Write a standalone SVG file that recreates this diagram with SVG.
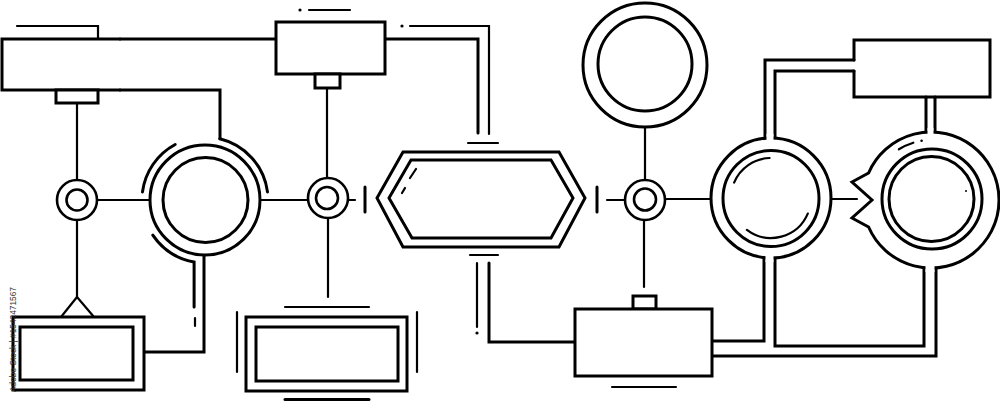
<svg xmlns="http://www.w3.org/2000/svg" width="1000" height="401" viewBox="0 0 1000 401">
<style>
.s{fill:none;stroke:#000;stroke-width:3;stroke-linecap:round;stroke-linejoin:miter}
.t{fill:none;stroke:#000;stroke-width:2.2;stroke-linecap:round;stroke-linejoin:miter}
.w{fill:#fff;stroke:#000;stroke-width:3}
.wt{fill:#fff;stroke:#000;stroke-width:2.6}
.gap{fill:#fff;stroke:none}
.dot{fill:#000;stroke:none}
.wm{font-family:"Liberation Sans",Arial,sans-serif;font-size:9.5px;fill:#333}
</style>
<rect width="1000" height="401" fill="#fff"/>

<g id="connectors">
  <path class="s" d="M120,39 H276"/>
  <path class="s" d="M120,90 H220 V138.8"/>
  <path class="t" d="M77,103 V189"/>
  <path class="t" d="M77,220 V297"/>
  <path class="t" d="M97,200 H150"/>
  <path class="s" d="M204,255 V352 H144"/>
  <path class="t" d="M260,200 H308"/>
  <path class="t" d="M327,88 V187"/>
  <path class="t" d="M328,218 V297"/>
  <path class="t" d="M348,200 H355"/>
  <path class="s" d="M385,39 H478 V133"/>
  <path class="t" d="M410,26 H489 V134"/>
  <circle class="dot" cx="402" cy="26" r="1.6"/>
  <path class="t" d="M477,263 V327"/>
  <circle class="dot" cx="477" cy="333" r="1.6"/>
  <path class="s" d="M489,263 V342 H575"/>
  <path class="t" d="M645,127 V189"/>
  <path class="t" d="M644,221 V287"/>
  <path class="t" d="M607,200 H625"/>
  <path class="t" d="M665,199 H712"/>
  <path class="s" d="M765,138.3 V60 H854"/>
  <path class="s" d="M775,138.1 V71 H854"/>
  <path class="s" d="M764,257.6 V341 H712"/>
  <path class="s" d="M775,257.9 V346 H924 V267.6"/>
  <path class="s" d="M712,356 H936 V267.8"/>
  <path class="t" d="M831,199 H857"/>
  <path class="s" d="M926,97 V132.2"/>
  <path class="s" d="M935,97 V132.1"/>
</g>

<g id="box-top-left">
  <path class="s" d="M120,39 H2 V90 H120"/>
  <path class="t" d="M17,26 H98 V39"/>
  <rect class="w" x="56" y="90" width="42" height="13"/>
</g>

<g id="box-top-middle">
  <rect class="w" x="276" y="22" width="109" height="52"/>
  <rect class="w" x="315" y="74" width="25" height="14"/>
  <circle class="dot" cx="300" cy="10" r="1.6"/>
  <path class="t" d="M309,10 H350"/>
</g>

<g id="small-circle-left">
  <circle class="wt" cx="77" cy="200" r="20"/>
  <circle class="wt" cx="77" cy="200" r="10.5"/>
</g>

<g id="big-circle-left">
  <circle class="w" cx="205" cy="200" r="55"/>
  <circle class="w" cx="205.5" cy="200" r="42.5"/>
  <path class="s" d="M219.8,138.8 A63,63 0 0 1 267.5,191.9"/>
  <path class="s" d="M142.5,191.9 A63,63 0 0 1 175.2,144.5"/>
  <path class="s" d="M152.8,235.2 A63,63 0 0 0 194.1,262 V307"/>
  <path class="t" d="M195,318 V326"/>
</g>

<g id="box-bottom-left">
  <path class="t" d="M61,317 L77,297 L94,317"/>
  <rect class="w" x="13" y="317" width="131" height="73"/>
  <rect class="w" x="20" y="327" width="113" height="53"/>
</g>

<g id="small-circle-middle">
  <circle class="wt" cx="328" cy="198" r="20"/>
  <circle class="wt" cx="327" cy="198" r="11"/>
</g>

<g id="box-bottom-middle-left">
  <path class="t" d="M285,307 H369"/>
  <rect class="w" x="246" y="317" width="161" height="74"/>
  <rect class="w" x="256" y="327" width="142" height="54"/>
  <path class="t" d="M237,312 V372"/>
  <path class="t" d="M417,312 V372"/>
  <path class="s" d="M285,399.5 H369"/>
</g>

<g id="hexagon">
  <path class="t" d="M468,143 H498"/>
  <polygon class="w" points="403,152 559,152 585,198 559,247 403,247 377,198"/>
  <polygon class="w" points="411,160 551,160 573,198 551,238 412,238 389,198"/>
  <path class="t" d="M416,169 L410,178"/>
  <path class="t" d="M405,188 L402,193"/>
  <path class="s" d="M365,187 V212"/>
  <path class="s" d="M597,187 V212"/>
  <path class="t" d="M470,255 H498"/>
</g>

<g id="circle-top">
  <circle class="w" cx="645" cy="65" r="62"/>
  <circle class="w" cx="645" cy="64" r="47"/>
</g>

<g id="small-circle-right">
  <circle class="wt" cx="645" cy="200" r="20"/>
  <circle class="wt" cx="645" cy="199.5" r="11"/>
</g>

<g id="box-bottom-middle">
  <rect class="w" x="633" y="296" width="23" height="13"/>
  <rect class="w" x="575" y="309" width="137" height="67"/>
  <path class="t" d="M612,387 H676"/>
</g>

<g id="circle-right-1">
  <circle class="w" cx="771" cy="198" r="60"/>
  <rect class="gap" x="766.5" y="134" width="7" height="8"/>
  <rect class="gap" x="765.5" y="254" width="8" height="8"/>
  <circle class="w" cx="771" cy="198.5" r="48"/>
  <path class="t" d="M734.1,182.6 A40,40 0 0 1 769.6,158"/>
  <path class="t" d="M746.9,229.9 A40,40 0 0 0 807.8,213.6"/>
</g>

<g id="box-top-right">
  <path class="s" d="M854,60 V40 H990 V97 H854 V71"/>
</g>

<g id="circle-right-2">
  <path class="w" d="M868.6,173 A68,68 0 1 1 868.6,227 L852,218 L872,200 L852,182 Z"/>
  <rect class="gap" x="927.5" y="128" width="6" height="8"/>
  <rect class="gap" x="925.5" y="263" width="9" height="9"/>
  <circle class="w" cx="932" cy="199" r="50"/>
  <circle class="w" cx="931.5" cy="199" r="42.5"/>
  <path class="t" d="M898.9,149.3 A60,60 0 0 1 913.3,142.7"/>
  <circle class="dot" cx="921.6" cy="140.7" r="1.3"/>
  <circle class="dot" cx="966" cy="191" r="1"/>
</g>

<text class="wm" transform="translate(16,392) rotate(-90)" textLength="105" lengthAdjust="spacingAndGlyphs">Adobe Stock | #1542471567</text>
</svg>
